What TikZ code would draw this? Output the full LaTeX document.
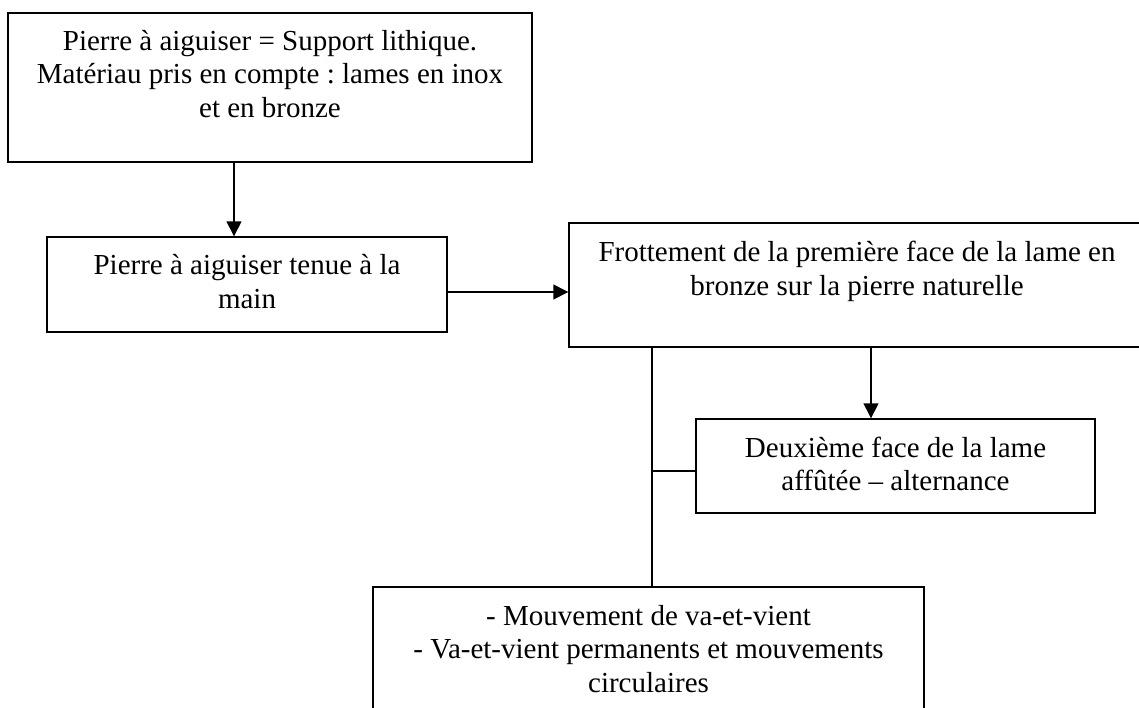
\documentclass[tikz,border=0pt]{standalone}
\usepackage{fontspec}
\setmainfont{Liberation Serif}
\frenchspacing
\usetikzlibrary{arrows.meta,calc}
\begin{document}
\begin{tikzpicture}[x=1pt,y=-1pt,
  boxnode/.style={draw,line width=1.4pt,rectangle,inner sep=0pt},
  txt/.style={anchor=north,align=center,inner sep=0pt,font=\fontsize{29}{33.5}\selectfont},
  arr/.style={line width=1.4pt,-{Triangle[length=15pt,width=15pt]}},
  ln/.style={line width=1.4pt}]
\useasboundingbox (0,0) rectangle (1139,707);
\clip (0,0) rectangle (1139,707);
% boxes
\node[boxnode,minimum width=524pt,minimum height=149pt] (b1) at (270,87.5) {};
\node[boxnode,minimum width=400pt,minimum height=95pt] (b2) at (247,284.5) {};
\node[boxnode,minimum width=576pt,minimum height=124pt] (b3) at (857,285) {};
\node[boxnode,minimum width=399pt,minimum height=94pt] (b4) at (895.5,466) {};
\node[boxnode,minimum width=551pt,minimum height=160pt] (b5) at (648.5,667) {};
% texts (first baseline about 37-38 below box top)
\node[txt] (t1) at (270,26.6) {\strut Pierre à aiguiser = Support lithique.\\Matériau pris en compte : lames en inox\\et en bronze};
\node[txt] (t2) at (247,251.1) {\strut Pierre à aiguiser tenue à la\\main};
\node[txt] (t3) at (857,238.1) {\strut Frottement de la première face de la lame en\\bronze sur la pierre naturelle};
\node[txt] (t4) at (895.5,433.6) {\strut Deuxième face de la lame\\affûtée -- alternance};
\node[txt] (t5) at (648.5,601.6) {\strut - Mouvement de va-et-vient\\- Va-et-vient permanents et mouvements\\circulaires};
% connector anchor points
\coordinate (p1) at (234,162);
\coordinate (p2) at (447,292);
\coordinate (p3) at (871,347);
\coordinate (p4) at (652,347);
\coordinate (p5) at (652,471);
% connectors
\draw[arr] (p1) -- (p1 |- b2.north);
\draw[arr] (p2) -- (p2 -| b3.west);
\draw[arr] (p3) -- (p3 |- b4.north);
\draw[ln] (p4) -- (p4 |- b5.north);
\draw[ln] (p5) -- (p5 -| b4.west);
\end{tikzpicture}
\end{document}
